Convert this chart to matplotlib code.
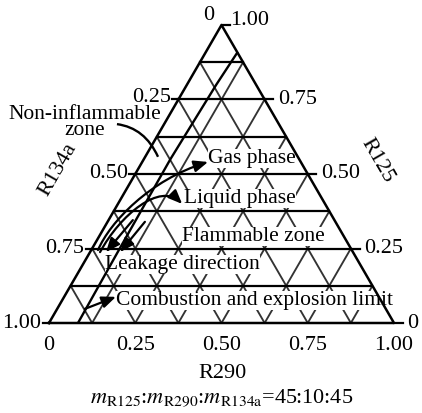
import numpy as np
import matplotlib
matplotlib.use("Agg")
import matplotlib.pyplot as plt
from matplotlib.path import Path
from matplotlib.patches import FancyArrowPatch, PathPatch

plt.rcParams['font.family'] = ['Liberation Serif', 'DejaVu Serif']
plt.rcParams['mathtext.fontset'] = 'stix'

H = np.sqrt(3) / 2
N_DIV = 8

# tick values on the three sides
r290_ticks = [0, 0.25, 0.50, 0.75, 1.00]
r290_labels = ['0', '0.25', '0.50', '0.75', '1.00']
r125_ticks = [1.00, 0.75, 0.50, 0.25, 0]
r125_labels = ['1.00', '0.75', '0.50', '0.25', '0']
r134a_ticks = [0.25, 0.50, 0.75, 1.00]
r134a_labels = ['0.25', '0.50', '0.75', '1.00']

# combustion / explosion limit (R290 fraction vs R125 fraction)
limit_r125 = [0.0, 0.25, 0.55, 0.80, 0.906]
limit_r290 = [0.084, 0.080, 0.077, 0.085, 0.092]

# zone labels: text, x, y (triangle plane)
zone_labels = [
    ('Gas phase', 0.588, 0.478),
    ('Liquid phase', 0.554, 0.363),
    ('Flammable zone', 0.591, 0.250),
    ('Leakage direction', 0.386, 0.171),
    ('Combustion and explosion limit', 0.597, 0.064),
]

LABEL_FS = 15.5
TICK_FS = 16


def tern(r290, r125):
    r290 = np.asarray(r290, dtype=float)
    r125 = np.asarray(r125, dtype=float)
    return r290 + r125 / 2, r125 * H


fig = plt.figure(figsize=(4.22, 4.13), dpi=100)
ax = fig.add_axes([49 / 422, 90 / 413, 345 / 422, 298 / 413])
ax.set_xlim(0, 1)
ax.set_ylim(0, H)
ax.axis('off')

# diagonal grid lines
for k in range(1, N_DIV):
    f = k / N_DIV
    x, y = tern([f, f], [0, 1 - f])
    ax.plot(x, y, color='#333333', lw=1.35, zorder=1, solid_capstyle='butt')
    x, y = tern([f, 0], [0, f])
    ax.plot(x, y, color='#333333', lw=1.35, zorder=1, solid_capstyle='butt')

# zone labels hide the grid behind them
for txt, x, y in zone_labels:
    ax.text(x, y, txt, ha='center', va='center', fontsize=LABEL_FS, zorder=2,
            bbox=dict(boxstyle='square,pad=0.0', fc='white', ec='none'))

# horizontal grid lines and frame
for k in range(1, N_DIV):
    f = k / N_DIV
    x, y = tern([0, 1 - f], [f, f])
    ax.plot(x, y, color='black', lw=1.6, zorder=3)
x, y = tern([0, 1, 0, 0], [0, 0, 1, 0])
ax.plot(x, y, color='black', lw=1.8, zorder=3, clip_on=False)

# ticks and tick labels
for v, lab in zip(r134a_ticks, r134a_labels):
    x, y = tern(0, 1 - v)
    ax.plot([x - 0.018, x], [y, y], color='black', lw=1.6, clip_on=False, zorder=3)
    ax.text(x - 0.022, y + (0.006 if v == 0.25 else 0), lab,
            ha='right', va='center', fontsize=TICK_FS)
x, y = tern(0, 1)
ax.text(x - 0.02, y + 0.028, '0', ha='right', va='center', fontsize=TICK_FS)
for v, lab in zip(r125_ticks, r125_labels):
    x, y = tern(1 - v, v)
    ax.plot([x, x + 0.025], [y, y], color='black', lw=1.6, clip_on=False, zorder=3)
    ax.text(x + 0.038 if v < 1 else x + 0.026, y + (0.012 if v == 1 else 0), lab,
            ha='left', va='center', fontsize=TICK_FS)
for v, lab in zip(r290_ticks, r290_labels):
    ax.text(v, -0.064, lab, ha='center', va='center', fontsize=TICK_FS)

ax.text(0.026, 0.445, 'R134a', rotation=60, ha='center', va='center', fontsize=TICK_FS)
ax.text(0.951, 0.471, 'R125', rotation=-60, ha='center', va='center', fontsize=TICK_FS)
ax.text(0.504, -0.147, 'R290', ha='center', va='center', fontsize=TICK_FS)
ax.text(0.501, -0.220,
        r'$m_{\mathrm{R125}}$:$m_{\mathrm{R290}}$:$m_{\mathrm{R134a}}$=45:10:45',
        ha='center', va='center', fontsize=TICK_FS)

ax.text(0.104, 0.582, 'Non-inflammable\nzone', ha='center', va='center',
        multialignment='center', linespacing=0.78, fontsize=LABEL_FS)

# limit line
lx, ly = tern(limit_r290, limit_r125)
ax.plot(lx, ly, color='black', lw=1.7, zorder=4)

# leader for the non-inflammable zone
lead = Path([(0.197, 0.578), (0.278, 0.567), (0.316, 0.483)],
            [Path.MOVETO, Path.CURVE3, Path.CURVE3])
ax.add_patch(PathPatch(lead, fc='none', ec='black', lw=1.7, zorder=4, clip_on=False))

# gas and liquid phase arrows
arrow_kw = dict(arrowstyle='-|>,head_length=0.6,head_width=0.25', mutation_scale=14,
                color='black', lw=1.6, zorder=4)
gas = Path([(0.142, 0.212), (0.177, 0.294), (0.293, 0.416), (0.461, 0.468)],
           [Path.MOVETO, Path.CURVE4, Path.CURVE4, Path.CURVE4])
ax.add_patch(FancyArrowPatch(path=gas, **arrow_kw))
liq = Path([(0.148, 0.206), (0.206, 0.314), (0.322, 0.410), (0.386, 0.346)],
           [Path.MOVETO, Path.CURVE4, Path.CURVE4, Path.CURVE4])
ax.add_patch(FancyArrowPatch(path=liq, **arrow_kw))

# leakage direction arrows
for p0, p1 in [((0.243, 0.299), (0.165, 0.206)), ((0.278, 0.294), (0.206, 0.206))]:
    ax.add_patch(FancyArrowPatch(p0, p1, shrinkA=0, shrinkB=0, **arrow_kw))

# limit pointer
ax.add_patch(FancyArrowPatch((0.104, 0.041), (0.194, 0.076), shrinkA=0, shrinkB=0,
                             **arrow_kw))

fig.savefig('out.png', dpi=100)
